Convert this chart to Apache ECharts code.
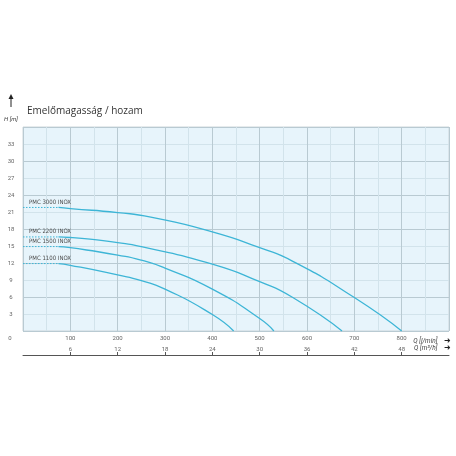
<!DOCTYPE html>
<html>
<head>
<meta charset="utf-8">
<script src="https://cdn.jsdelivr.net/npm/echarts@6/dist/echarts.min.js"></script>
<style>html,body{margin:0;padding:0;background:#fff}#c{width:456px;height:456px}</style>
</head>
<body>
<div id="c"></div>
<script>
// Data
const pumpNames = ['PMC 3000 INOX', 'PMC 2200 INOX', 'PMC 1500 INOX', 'PMC 1100 INOX'];
const shutoffHead = [21.8, 16.6, 14.9, 11.9];
const dashEndQ = 75;
const q3000 = [75, 100, 200, 270, 400, 500, 570, 700, 800];
const h3000 = [21.8, 21.6, 20.9, 20.1, 17.5, 14.7, 12.3, 5.9, 0];
const q2200 = [75, 100, 200, 250, 400, 500, 570, 674];
const h2200 = [16.6, 16.5, 15.6, 14.9, 11.8, 8.7, 5.9, 0];
const q1500 = [75, 100, 200, 250, 300, 400, 500, 530];
const h1500 = [14.9, 14.7, 13.4, 12.5, 11.1, 7.4, 2.2, 0];
const q1100 = [75, 100, 200, 250, 300, 400, 445];
const h1100 = [11.9, 11.6, 9.9, 8.9, 7.4, 2.9, 0];
const qTicksLmin = [0, 100, 200, 300, 400, 500, 600, 700, 800];
const qTicksM3h = [100, 200, 300, 400, 500, 600, 700, 800]; // labels 6..48

const curveQ = [q3000, q2200, q1500, q1100];
const curveH = [h3000, h2200, h1500, h1100];
const lineColor = '#3db5d6';
const font = 'Roboto';

const series = [];
pumpNames.forEach((name, i) => {
  series.push({
    type: 'line', name: name + ' dash', xAxisIndex: 0, yAxisIndex: 0,
    symbol: 'circle', symbolSize: 0, showSymbol: true, silent: true,
    lineStyle: { color: lineColor, width: 1, type: [1.5, 1.5] },
    itemStyle: { color: lineColor },
    data: [
      { value: [0, shutoffHead[i]], label: { show: true, formatter: name, position: [6, -8],
        color: '#4a4a4a', fontSize: 6, fontFamily: '"Liberation Sans Narrow", "DejaVu Sans Condensed", Roboto' } },
      [dashEndQ, shutoffHead[i]]
    ]
  });
  series.push({
    type: 'line', name: name, xAxisIndex: 0, yAxisIndex: 0,
    showSymbol: false, smooth: 0.6, silent: true,
    lineStyle: { color: lineColor, width: 1.3 },
    data: curveQ[i].map((q, k) => [q, curveH[i][k]])
  });
});

const chart = echarts.init(document.getElementById('c'), null, { renderer: 'canvas' });
chart.setOption({
  animation: false,
  title: {
    text: 'Emelőmagasság / hozam', left: 27, top: 106, padding: 0,
    textStyle: { fontFamily: '"Open Sans"', fontSize: 10, fontWeight: 'normal', color: '#333' }
  },
  grid: {
    left: 23, right: 7, top: 127, bottom: 125, show: true,
    backgroundColor: '#e7f4fb', borderColor: '#cdd6da', borderWidth: 1
  },
  xAxis: [{
    type: 'value', min: 0, max: 900, interval: 50,
    axisLine: { show: false }, axisTick: { show: false },
    splitLine: { show: true, lineStyle: { color: ['#b9cad2', '#d2e3eb'], width: 1 } },
    axisLabel: {
      customValues: qTicksLmin, margin: 4.5, fontSize: 6, color: '#666', fontFamily: font,
      formatter: v => v === 0 ? '{z|0}' : String(v),
      rich: { z: { padding: [0, 26, 0, 0], fontSize: 6, color: '#666', fontFamily: font } }
    },
    name: '{t|Q [l/min]}  {a|➜}', nameLocation: 'end', nameGap: 2,
    nameTextStyle: {
      align: 'right', verticalAlign: 'top', padding: [4, 0, 0, 0],
      rich: { t: { fontStyle: 'italic', fontSize: 6.5, color: '#444', fontFamily: font },
              a: { fontSize: 8, color: '#222' } }
    }
  }, {
    type: 'value', min: 0, max: 900, interval: 100, position: 'bottom', offset: 24,
    axisLine: { show: true, lineStyle: { color: '#555', width: 1 } },
    axisTick: { show: true, inside: true, length: 3, customValues: qTicksM3h, lineStyle: { color: '#555' } },
    splitLine: { show: false },
    axisLabel: {
      inside: true, margin: 3, customValues: qTicksM3h, fontSize: 6, color: '#666', fontFamily: font,
      formatter: v => String(v / 100 * 6)
    },
    name: '{t|Q [m³/h]}  {a|➜}', nameLocation: 'end', nameGap: 2,
    nameTextStyle: {
      align: 'right', verticalAlign: 'bottom', padding: [0, 0, 1, 0],
      rich: { t: { fontStyle: 'italic', fontSize: 6.5, color: '#444', fontFamily: font },
              a: { fontSize: 8, color: '#222' } }
    }
  }],
  yAxis: {
    type: 'value', min: 0, max: 36, interval: 3,
    axisLine: { show: false }, axisTick: { show: false },
    splitLine: { show: true, lineStyle: { color: ['#b9cad2', '#d2e3eb'], width: 1 } },
    axisLabel: {
      fontSize: 6, color: '#666', fontFamily: font, align: 'center', margin: 12,
      formatter: v => (v === 0 || v === 36) ? '' : String(v)
    }
  },
  graphic: [
    { type: 'line', shape: { x1: 11, y1: 107, x2: 11, y2: 98 }, style: { stroke: '#222', lineWidth: 1 } },
    { type: 'polygon', shape: { points: [[8.5, 99], [11, 94], [13.5, 99]] }, style: { fill: '#222' } },
    { type: 'text', left: 4, top: 116, style: { text: 'H [m]', font: 'italic 6px Roboto', fill: '#444' } }
  ],
  series: series
});
</script>
</body>
</html>
